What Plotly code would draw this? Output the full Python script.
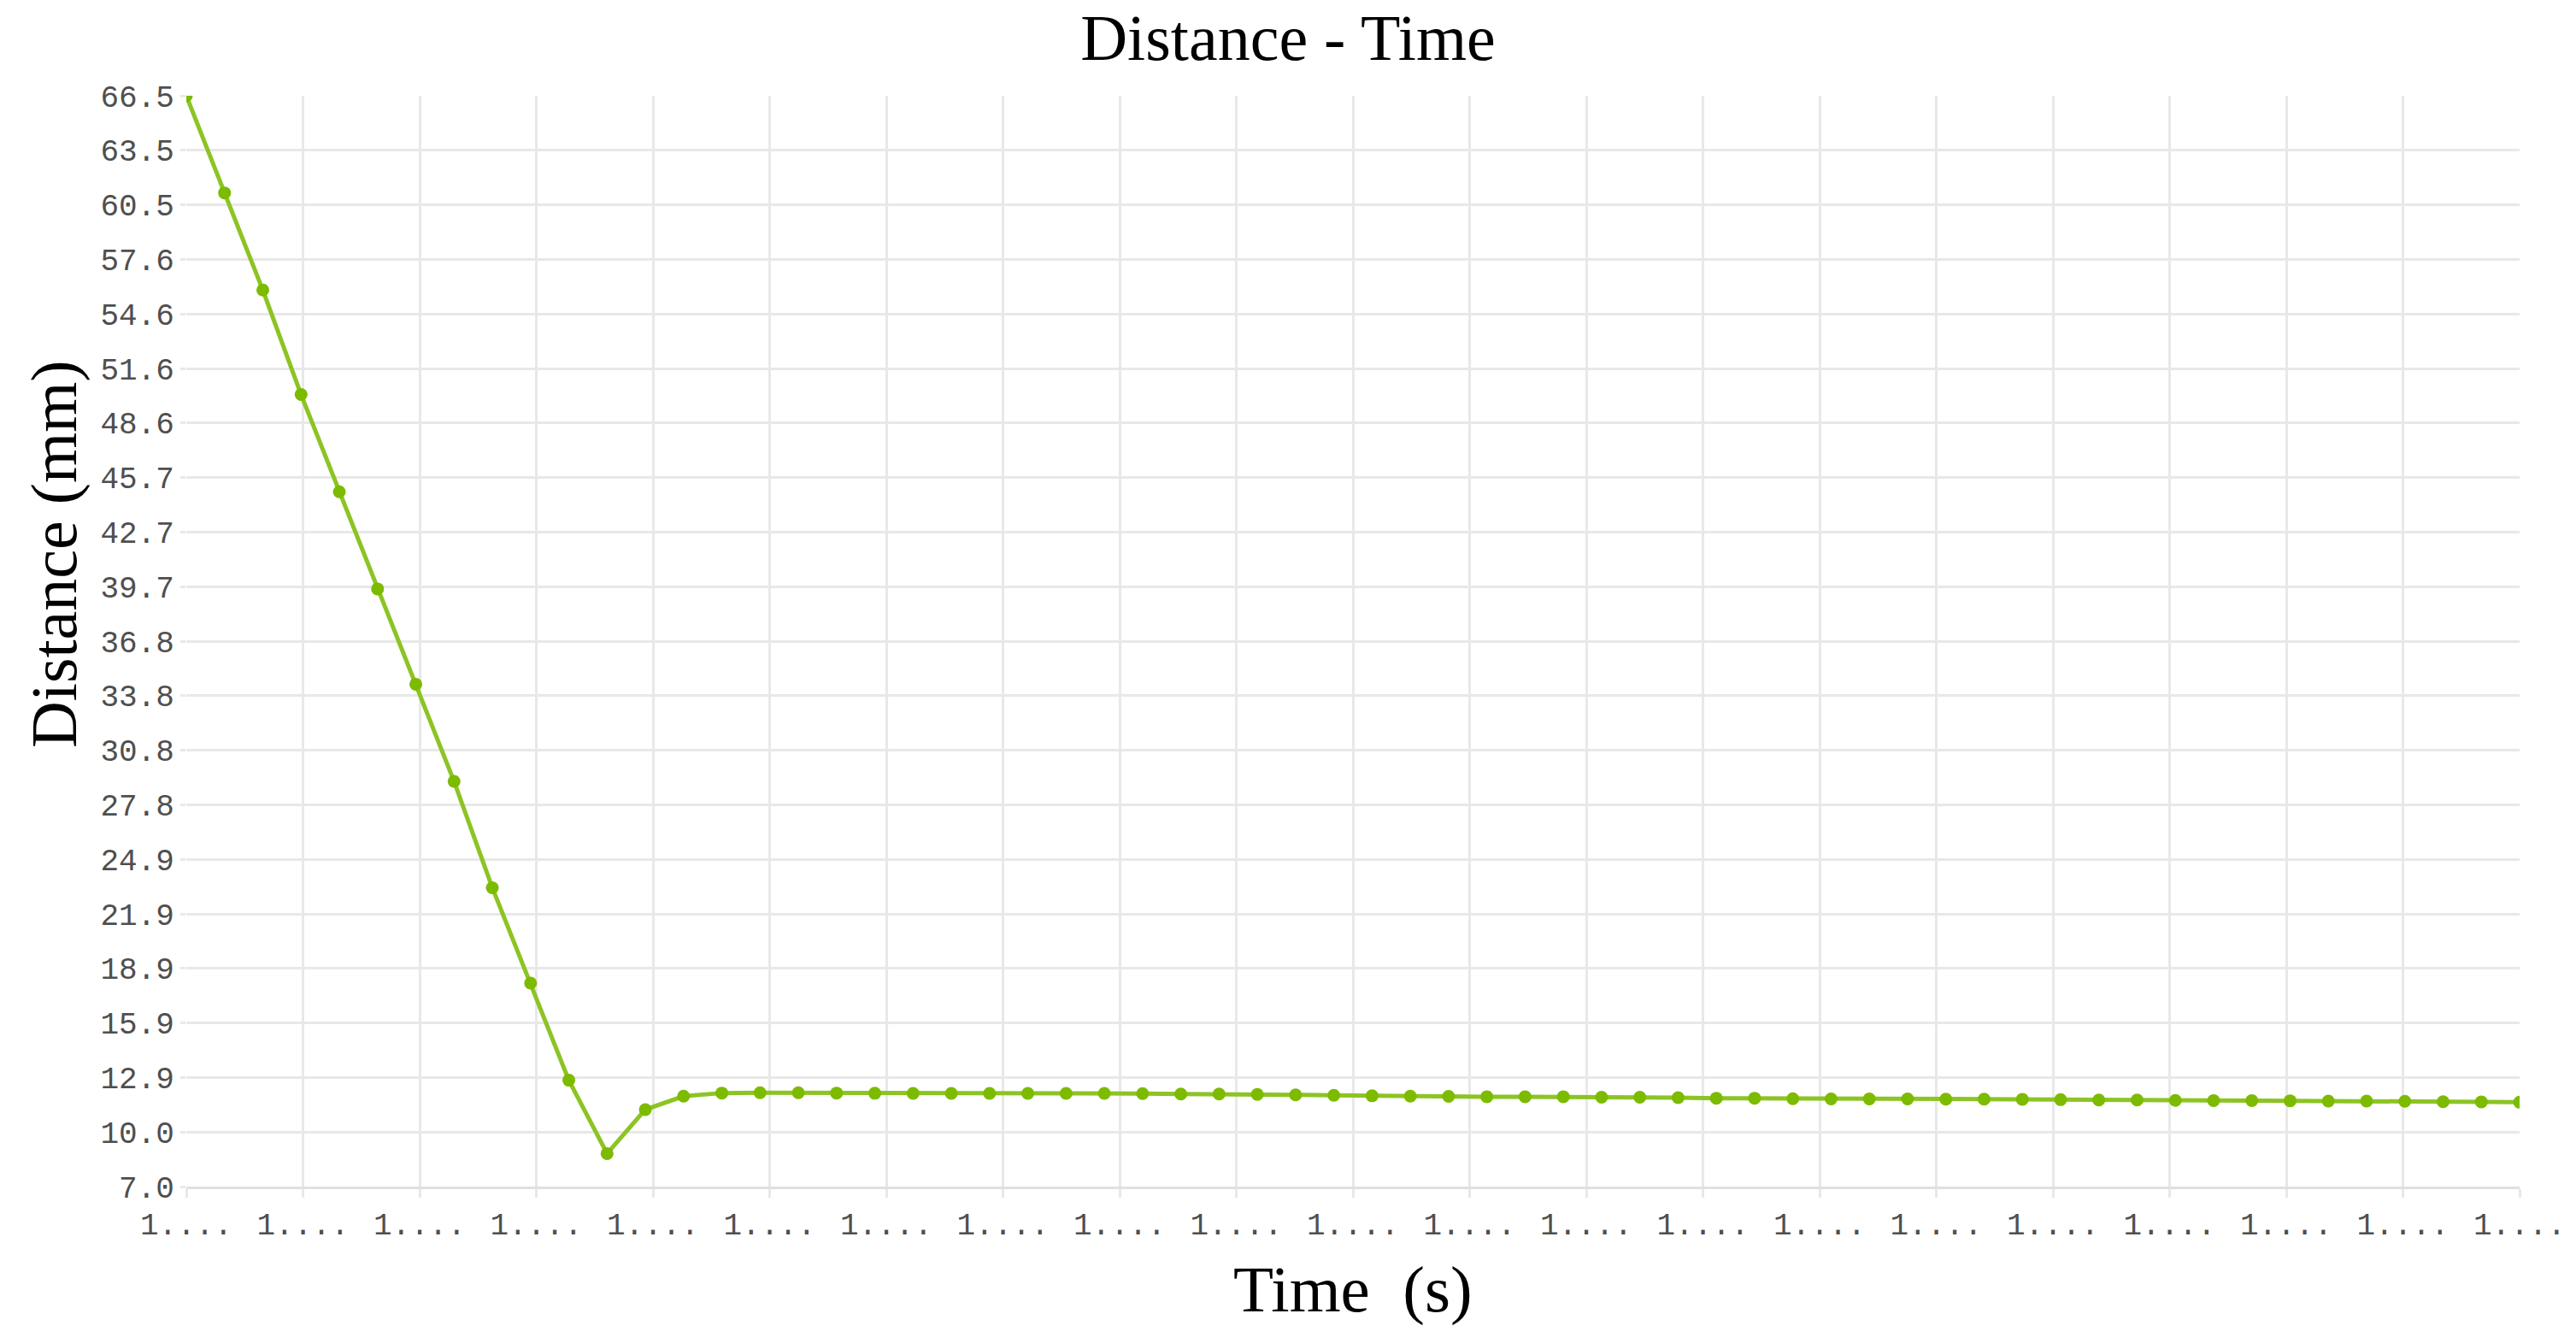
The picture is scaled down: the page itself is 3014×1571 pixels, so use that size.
import plotly.graph_objects as go

# ---- data ----
time_s = [0.0, 0.1, 0.2, 0.3, 0.4, 0.5, 0.6, 0.7, 0.8, 0.9,
          1.0, 1.1, 1.2, 1.3, 1.4, 1.5, 1.6, 1.7, 1.8, 1.9,
          2.0, 2.1, 2.2, 2.3, 2.4, 2.5, 2.6, 2.7, 2.8, 2.9,
          3.0, 3.1, 3.2, 3.3, 3.4, 3.5, 3.6, 3.7, 3.8, 3.9,
          4.0, 4.1, 4.2, 4.3, 4.4, 4.5, 4.6, 4.7, 4.8, 4.9,
          5.0, 5.1, 5.2, 5.3, 5.4, 5.5, 5.6, 5.7, 5.8, 5.9,
          6.0, 6.1]

distance_mm = [66.5, 61.2, 55.9, 50.2, 44.9, 39.6, 34.4, 29.1, 23.3, 18.1,
               12.8, 8.8, 11.2, 11.93, 12.1, 12.12, 12.12, 12.1, 12.09, 12.08,
               12.08, 12.08, 12.08, 12.08, 12.08, 12.07, 12.05, 12.05, 12.03, 12.0,
               11.98, 11.95, 11.93, 11.92, 11.9, 11.9, 11.9, 11.87, 11.87, 11.85,
               11.82, 11.82, 11.79, 11.78, 11.78, 11.78, 11.77, 11.77, 11.76, 11.74,
               11.72, 11.72, 11.7, 11.69, 11.69, 11.68, 11.66, 11.66, 11.65, 11.63,
               11.62, 11.6]

y_min, y_max = 7.0, 66.5
y_tick_labels = ["7.0", "10.0", "12.9", "15.9", "18.9", "21.9", "24.9", "27.8",
                 "30.8", "33.8", "36.8", "39.7", "42.7", "45.7", "48.6", "51.6",
                 "54.6", "57.6", "60.5", "63.5", "66.5"]
x_tick_labels = ["1...."] * 21

title_text = "Distance - Time"
x_title = "Time\u00a0\u00a0(s)"
y_title = "Distance (mm)"

# ---- figure ----
W, H = 3014, 1571
L, R, T, B = 218, 64, 112, 183

n_y = len(y_tick_labels) - 1
y_tickvals = [y_min + k * (y_max - y_min) / n_y for k in range(n_y + 1)]
x0, x1 = time_s[0], time_s[-1]
n_x = len(x_tick_labels) - 1
x_tickvals = [x0 + k * (x1 - x0) / n_x for k in range(n_x + 1)]

grid_col = "#e8e8e8"
label_font = dict(family="Liberation Mono, Courier New, monospace", size=36, color="#4f4f4f")
serif = "Liberation Serif, Times New Roman, serif"

fig = go.Figure()
fig.add_trace(go.Scatter(
    x=time_s, y=distance_mm, mode="lines+markers",
    line=dict(color="#8cc424", width=5),
    marker=dict(color="#7cbb00", size=15, line=dict(width=0)),
    showlegend=False, hoverinfo="x+y",
))

fig.update_layout(
    width=W, height=H,
    margin=dict(l=L, r=R, t=T, b=B, pad=0),
    paper_bgcolor="white", plot_bgcolor="white",
    title=dict(text=title_text, x=0.5, xref="container", xanchor="center",
               y=1 - 17 / H, yref="container", yanchor="top",
               font=dict(family=serif, size=76, color="#000000")),
    xaxis=dict(
        range=[x0, x1], tickmode="array", tickvals=x_tickvals, ticktext=x_tick_labels,
        showgrid=True, gridcolor=grid_col, gridwidth=3,
        showline=True, linecolor="#e0e0e0", linewidth=3,
        ticks="outside", ticklen=10, tickwidth=3, tickcolor=grid_col,
        tickfont=label_font, zeroline=False, fixedrange=True,
    ),
    yaxis=dict(
        range=[y_min, y_max], tickmode="array", tickvals=y_tickvals, ticktext=y_tick_labels,
        showgrid=True, gridcolor=grid_col, gridwidth=3,
        showline=False,
        ticks="outside", ticklen=6, tickwidth=3, tickcolor=grid_col,
        tickfont=label_font, zeroline=False, fixedrange=True,
    ),
    annotations=[
        dict(text=x_title, xref="paper", yref="paper",
             x=0.5, y=-(1508 - (H - B)) / (H - T - B), xanchor="center", yanchor="middle",
             showarrow=False, font=dict(family=serif, size=77, color="#000000")),
        dict(text=y_title, xref="paper", yref="paper", textangle=-90,
             x=-(L - 63) / (W - L - R), y=1 - (648 - T) / (H - T - B),
             xanchor="center", yanchor="middle",
             showarrow=False, font=dict(family=serif, size=76, color="#000000")),
    ],
)

fig.write_html("out.html",
               config={"displayModeBar": False},
               post_script="document.body.style.margin='0';document.body.style.overflow='hidden';")
